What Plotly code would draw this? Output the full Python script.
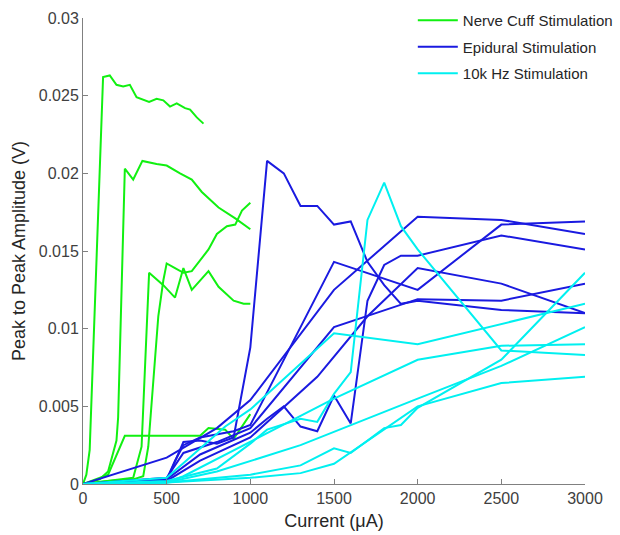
import plotly.graph_objects as go

# ---------------- data (current in µA, amplitude in V) ----------------
# Nerve cuff stimulation (green)
cuff1_x = [0, 20, 40, 120, 160, 200, 240, 280, 320, 395, 440, 480, 520, 560, 610, 640, 680, 720]
cuff1_y = [0, 0.0006, 0.0022, 0.0262, 0.0263, 0.0257, 0.0256, 0.0257, 0.0249, 0.0246, 0.0248, 0.0247,
           0.0243, 0.0245, 0.0242, 0.0241, 0.0236, 0.0232]
cuff2_x = [0, 100, 150, 200, 210, 250, 300, 355, 440, 500, 580, 650, 710, 810, 910, 1000]
cuff2_y = [0, 0.0003, 0.0008, 0.0028, 0.0043, 0.0203, 0.0196, 0.0208, 0.0206, 0.0205, 0.0200, 0.0196,
           0.0188, 0.0178, 0.0171, 0.0164]
cuff3_x = [0, 150, 300, 350, 380, 395, 480, 550, 600, 650, 750, 810, 900, 960, 1000]
cuff3_y = [0, 0.0002, 0.0004, 0.0024, 0.0093, 0.0136, 0.0128, 0.0120, 0.0139, 0.0125, 0.0137, 0.0127,
           0.0118, 0.0116, 0.0116]
cuff4_x = [0, 150, 300, 360, 390, 450, 480, 500, 550, 600, 650, 700, 750, 800, 860, 910, 950, 1000]
cuff4_y = [0, 0.0002, 0.0003, 0.0005, 0.0024, 0.0108, 0.0131, 0.0142, 0.0139, 0.0136, 0.0137, 0.0144,
           0.0151, 0.0161, 0.0166, 0.0167, 0.0176, 0.0181]
cuff5_x = [0, 150, 250, 700, 750, 850, 900, 1000]
cuff5_y = [0, 0.0006, 0.0031, 0.0031, 0.0036, 0.0035, 0.0029, 0.0045]

# Epidural stimulation (blue)
epi1_x = [0, 500, 600, 700, 800, 900, 1000, 1100, 1200, 1300, 1400, 1500, 1600, 1700, 1800, 1900, 2000, 2500, 3000]
epi1_y = [0, 0.0002, 0.0027, 0.0028, 0.0026, 0.0030, 0.0088, 0.0208, 0.0200, 0.0179, 0.0179, 0.0167,
          0.0169, 0.0143, 0.0128, 0.0116, 0.0118, 0.0112, 0.0110]
epi2_x = [0, 500, 800, 1000, 1500, 2000, 2500, 3000]
epi2_y = [0, 0.0017, 0.0036, 0.0054, 0.0125, 0.0172, 0.0170, 0.0161]
epi3_x = [0, 500, 550, 600, 700, 900, 1000, 1500, 2000, 2500, 3000]
epi3_y = [0, 0.0003, 0.0015, 0.0025, 0.0030, 0.0034, 0.0038, 0.0143, 0.0125, 0.0167, 0.0169]
epi4_x = [0, 500, 600, 800, 1000, 1500, 2000, 2500, 3000]
epi4_y = [0, 0.0004, 0.0020, 0.0027, 0.0036, 0.0101, 0.0119, 0.0118, 0.0129]
epi5_x = [0, 500, 700, 1000, 1400, 1700, 2000, 2500, 3000]
epi5_y = [0, 0.0002, 0.0015, 0.0030, 0.0069, 0.0108, 0.0139, 0.0129, 0.0110]
epi6_x = [0, 500, 700, 900, 1000, 1100, 1200, 1300, 1400, 1500, 1600, 1700, 1800, 1900, 2000, 2500, 3000]
epi6_y = [0, 0.0003, 0.0019, 0.0028, 0.0033, 0.0042, 0.0050, 0.0037, 0.0034, 0.0057, 0.0039, 0.0118,
          0.0141, 0.0147, 0.0147, 0.0160, 0.0151]

# 10k Hz stimulation (cyan)
khz1_x = [0, 500, 850, 1000, 1500, 2000, 3000]
khz1_y = [0, 0.0004, 0.0037, 0.0048, 0.0097, 0.0090, 0.0116]
khz2_x = [0, 500, 800, 1000, 1100, 1300, 1400, 1500, 1600, 1700, 1800, 1900, 2000, 2500, 3000]
khz2_y = [0, 0.0002, 0.0010, 0.0026, 0.0035, 0.0042, 0.0040, 0.0058, 0.0072, 0.0170, 0.0194, 0.0166,
          0.0151, 0.0086, 0.0083]
khz3_x = [0, 500, 600, 1500, 2000, 2500, 3000]
khz3_y = [0, 0.0001, 0.0005, 0.0055, 0.0080, 0.0089, 0.0090]
khz4_x = [0, 500, 800, 1300, 2000, 2500, 3000]
khz4_y = [0, 0.0001, 0.0008, 0.0025, 0.0055, 0.0076, 0.0101]
khz5_x = [0, 500, 1000, 1300, 1500, 1600, 1800, 1900, 2000, 2500, 3000]
khz5_y = [0, 0.0001, 0.0006, 0.0012, 0.0023, 0.0020, 0.0036, 0.0038, 0.0049, 0.0080, 0.0136]
khz6_x = [0, 500, 1000, 1300, 1500, 2000, 2500, 3000]
khz6_y = [0, 0.0001, 0.0004, 0.0007, 0.0013, 0.0050, 0.0065, 0.0069]

x_ticks = [0, 500, 1000, 1500, 2000, 2500, 3000]
y_ticks = [0, 0.005, 0.01, 0.015, 0.02, 0.025, 0.03]
y_tick_labels = ["0", "0.005", "0.01", "0.015", "0.02", "0.025", "0.03"]

groups = [
    ("Nerve Cuff Stimulation", "#11f011",
     [(cuff1_x, cuff1_y), (cuff2_x, cuff2_y), (cuff3_x, cuff3_y), (cuff4_x, cuff4_y), (cuff5_x, cuff5_y)]),
    ("Epidural Stimulation", "#1a1ae0",
     [(epi1_x, epi1_y), (epi2_x, epi2_y), (epi3_x, epi3_y), (epi4_x, epi4_y), (epi5_x, epi5_y), (epi6_x, epi6_y)]),
    ("10k Hz Stimulation", "#00f0f0",
     [(khz1_x, khz1_y), (khz2_x, khz2_y), (khz3_x, khz3_y), (khz4_x, khz4_y), (khz5_x, khz5_y), (khz6_x, khz6_y)]),
]

fig = go.Figure()
for name, color, series in groups:
    for i, (xs, ys) in enumerate(series):
        fig.add_trace(go.Scatter(
            x=xs, y=ys, mode="lines", name=name, legendgroup=name,
            showlegend=(i == 0), line=dict(color=color, width=2),
            hoverinfo="skip"))

axis_font = dict(family="Liberation Sans, Arial, sans-serif", size=16, color="#404040")
title_font = dict(family="Liberation Sans, Arial, sans-serif", size=18, color="#262626")

fig.update_layout(
    width=620, height=535,
    margin=dict(l=83, r=35, t=18, b=51, autoexpand=False),
    plot_bgcolor="white", paper_bgcolor="white",
    font=dict(family="Liberation Sans, Arial, sans-serif"),
    showlegend=True,
    legend=dict(x=0.657, y=1.03, xanchor="left", yanchor="top",
                font=dict(family="Liberation Sans, Arial, sans-serif", size=15, color="#262626"),
                bgcolor="rgba(0,0,0,0)", tracegroupgap=4, itemwidth=40,
                traceorder="grouped"),
    xaxis=dict(range=[0, 3000], tickvals=x_ticks, ticks="inside", ticklen=5,
               tickcolor="#808080", showline=True, linecolor="#808080", linewidth=1,
               showgrid=False, zeroline=False, tickfont=axis_font,
               title=dict(text="Current (μA)", font=title_font, standoff=8)),
    yaxis=dict(range=[0, 0.03], tickvals=y_ticks, ticktext=y_tick_labels, ticks="inside",
               ticklen=5, tickcolor="#808080", showline=True, linecolor="#808080", linewidth=1,
               showgrid=False, zeroline=False, tickfont=axis_font,
               title=dict(text="Peak to Peak Amplitude (V)", font=title_font, standoff=8)),
)

fig.write_html("out.html")
